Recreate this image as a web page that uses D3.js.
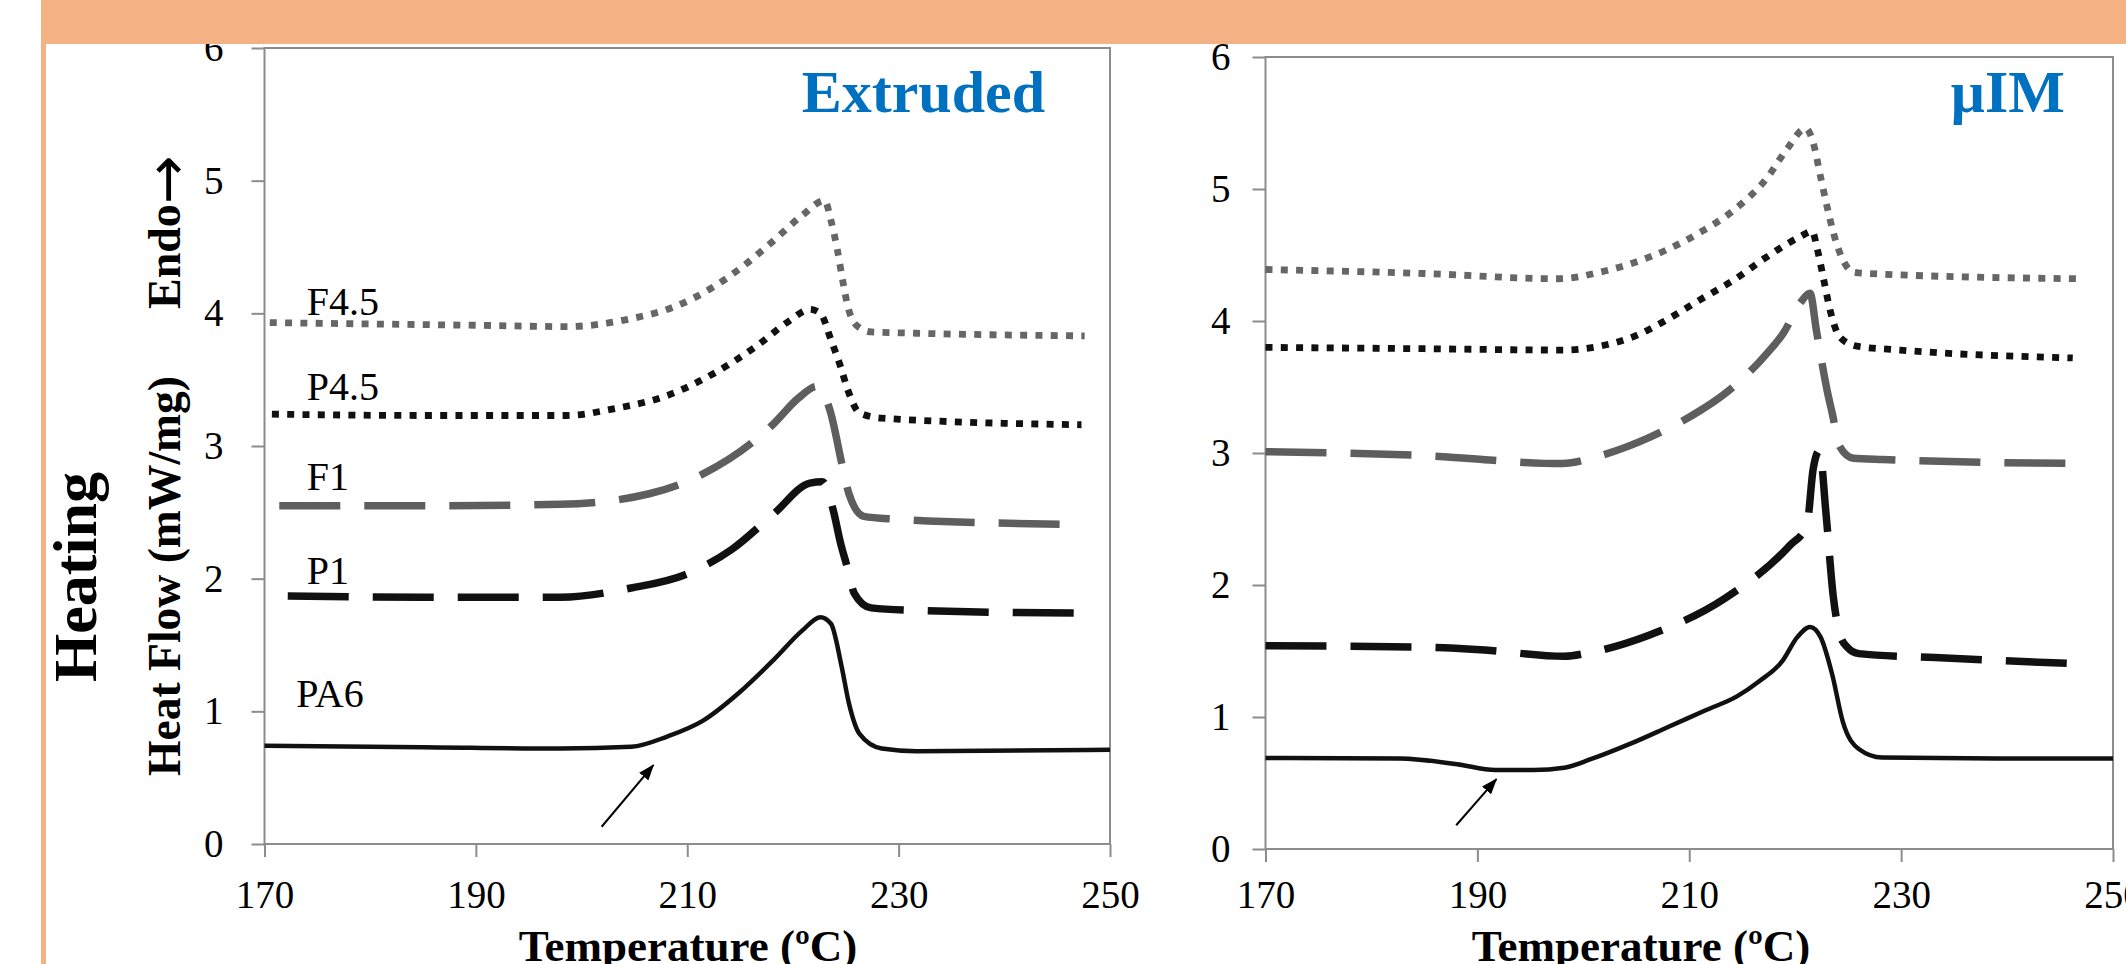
<!DOCTYPE html>
<html>
<head>
<meta charset="utf-8">
<script src="https://cdn.jsdelivr.net/npm/d3@7"></script>
<style>
    body { margin: 0; background: #fff; }
</style>
</head>
<body>
<div id="chart"></div>
<script>
(function () {
    // --- Data: DSC heating curves, [temperature (ºC), heat flow (mW/mg)] ---
    const tempTicks = [170, 190, 210, 230, 250];
    const heatTicks = [0, 1, 2, 3, 4, 5, 6];
    const seriesNames = ["F4.5", "P4.5", "F1", "P1", "PA6"];

    // Extruded samples
    const extrudedF45 = [[170.5, 3.93], [180, 3.92], [190, 3.91], [198.6, 3.90], [204.7, 3.96], [208.8, 4.05],
        [212.5, 4.20], [215.2, 4.35], [218.2, 4.55], [220.9, 4.74], [223, 4.85], [223.6, 4.70], [224.2, 4.48],
        [224.7, 4.25], [225.2, 4.05], [226, 3.91], [227.4, 3.86], [231.7, 3.85], [247.6, 3.83]];
    const extrudedP45 = [[170.7, 3.24], [185, 3.23], [198.6, 3.23], [203, 3.28], [208.1, 3.38], [212.8, 3.56],
        [216.5, 3.75], [219.6, 3.94], [221.6, 4.03], [222.6, 4.00], [223.6, 3.80], [224.5, 3.60], [225.2, 3.42],
        [226.3, 3.25], [228.4, 3.21], [247.3, 3.16]];
    const extrudedF1 = [[171.4, 2.55], [185, 2.55], [198, 2.56], [206.4, 2.64], [211.5, 2.79], [216.2, 3.03],
        [218.2, 3.17], [220.5, 3.36], [222.3, 3.45], [223.5, 3.27], [224.7, 2.84], [225.3, 2.64], [226.7, 2.47],
        [229.4, 2.45], [245.6, 2.41]];
    const extrudedP1 = [[172.2, 1.87], [185, 1.86], [198, 1.86], [204.7, 1.93], [209.8, 2.03], [214.2, 2.22],
        [218.2, 2.49], [221.6, 2.72], [222.8, 2.73], [223.8, 2.52], [224.5, 2.27], [225.2, 2.07], [225.8, 1.89],
        [227.4, 1.78], [231.7, 1.76], [247.3, 1.74]];
    const extrudedPA6 = [[170, 0.74], [185, 0.73], [198, 0.72], [204.7, 0.733], [208.1, 0.81], [211.5, 0.93],
        [214.9, 1.14], [218.2, 1.39], [220.9, 1.61], [222.6, 1.71], [223.6, 1.66], [224.6, 1.34], [225.3, 1.06],
        [226.3, 0.83], [228.4, 0.72], [231.7, 0.70], [250, 0.71]];

    // Micro injection moulded samples
    const mimF45 = [[170, 4.39], [185, 4.36], [197.7, 4.32], [201.6, 4.37], [204.7, 4.44], [207.9, 4.54],
        [211, 4.67], [214.2, 4.84], [217.4, 5.09], [219.2, 5.30], [221, 5.46], [221.7, 5.35], [222.4, 5.09],
        [223, 4.87], [223.6, 4.67], [224.2, 4.52], [225.5, 4.37], [226.8, 4.36], [246.8, 4.32]];
    const mimP45 = [[170, 3.80], [185, 3.79], [198, 3.78], [201.6, 3.81], [204.7, 3.88], [207.9, 4.01],
        [211, 4.16], [214.2, 4.31], [217.4, 4.49], [220.5, 4.64], [221.6, 4.68], [222.1, 4.54], [222.7, 4.31],
        [223.3, 4.08], [224.2, 3.88], [225.8, 3.81], [229.9, 3.78], [246.2, 3.72]];
    const mimF1 = [[170, 3.01], [185, 2.98], [198, 2.92], [201.6, 2.98], [206.3, 3.12], [211, 3.32],
        [213.2, 3.44], [217.4, 3.76], [218.9, 3.91], [220.5, 4.14], [221.4, 4.21], [222, 3.93], [223, 3.48],
        [223.5, 3.30], [224.2, 3.05], [225.5, 2.96], [228.3, 2.95], [247.3, 2.92]];
    const mimP1 = [[170, 1.54], [184.5, 1.53], [190.3, 1.51], [198.2, 1.46], [200.7, 1.49], [206.2, 1.62],
        [213.4, 1.90], [219.5, 2.30], [221.1, 2.45], [221.7, 2.88], [222.3, 3.02], [222.9, 2.55], [223.6, 1.91],
        [224.2, 1.63], [224.9, 1.53], [226, 1.48], [233.2, 1.45], [247.6, 1.40]];
    const mimPA6 = [[170, 0.69], [182.7, 0.686], [188.1, 0.642], [191.7, 0.598], [195.3, 0.598], [198.2, 0.616],
        [200.7, 0.68], [204.4, 0.796], [208, 0.924], [211.6, 1.053], [214.5, 1.156], [216.6, 1.271], [218.8, 1.425],
        [220.2, 1.605], [221.4, 1.682], [222.4, 1.605], [223.5, 1.32], [224.5, 0.963], [226, 0.758],
        [228.2, 0.693], [239.3, 0.686], [250, 0.686]];

    // Onset arrows: [tail, head]
    const extrudedArrow = [[201.9, 0.13], [206.8, 0.595]];
    const mimArrow = [[188.0, 0.18], [191.8, 0.53]];

    // --- Look ---
    const WIDTH = 2126, HEIGHT = 964;
    const FONT = '"Liberation Serif", "Times New Roman", serif';
    const ORANGE = "#F4B183";
    const AXIS_GREY = "#8c8c8c";
    const TITLE_BLUE = "#0070C0";

    const lineStyles = {
        "F4.5": { color: "#666666", width: 6.8, dash: "7,8.3" },
        "P4.5": { color: "#111111", width: 6.8, dash: "7,8.3" },
        "F1":   { color: "#5e5e5e", width: 7.5, dash: "61,24" },
        "P1":   { color: "#111111", width: 7.5, dash: "61,24" },
        "PA6":  { color: "#111111", width: 4.5, dash: null }
    };

    const panels = [
        {
            title: "Extruded", left: 264.5, right: 1110, top: 48, bottom: 844,
            yPad: 28, xPad: 23, titleX: 1045, xLabelX: 688,
            series: [extrudedF45, extrudedP45, extrudedF1, extrudedP1, extrudedPA6],
            arrow: extrudedArrow,
            // where the curve names sit, in data units
            labelAt: { "F4.5": [174.0, 3.99], "P4.5": [174.0, 3.35], "F1": [174.0, 2.67],
                       "P1": [174.0, 1.96], "PA6": [173.0, 1.03] }
        },
        {
            title: "µIM", left: 1265.5, right: 2113, top: 57, bottom: 849,
            yPad: 22, xPad: 18, titleX: 2065, xLabelX: 1641,
            series: [mimF45, mimP45, mimF1, mimP1, mimPA6],
            arrow: mimArrow,
            labelAt: null
        }
    ];

    const svg = d3.select("#chart").append("svg")
        .attr("width", WIDTH)
        .attr("height", HEIGHT)
        .style("display", "block")
        .style("font-family", FONT);

    svg.append("defs").append("marker")
        .attr("id", "arrowHead")
        .attr("markerUnits", "userSpaceOnUse")
        .attr("viewBox", "0 0 16 12")
        .attr("refX", 15).attr("refY", 6)
        .attr("markerWidth", 16).attr("markerHeight", 12)
        .attr("orient", "auto")
        .append("path")
        .attr("d", "M0,0 L16,6 L0,12 Z")
        .attr("fill", "#000");

    /**
     * Draws one DSC panel: frame, axes, curves, arrow and title.
     */
    function drawPanel(p) {
        const x = d3.scaleLinear().domain([170, 250]).range([p.left, p.right]);
        const y = d3.scaleLinear().domain([0, 6]).range([p.bottom, p.top]);
        const g = svg.append("g");

        // plot area frame
        g.append("rect")
            .attr("x", p.left).attr("y", p.top)
            .attr("width", p.right - p.left).attr("height", p.bottom - p.top)
            .attr("fill", "none")
            .attr("stroke", AXIS_GREY)
            .attr("stroke-width", 2);

        const xAxis = g.append("g")
            .attr("transform", `translate(0,${p.bottom})`)
            .call(d3.axisBottom(x).tickValues(tempTicks).tickFormat(d3.format("d"))
                .tickSize(13).tickSizeOuter(0).tickPadding(p.xPad));
        const yAxis = g.append("g")
            .attr("transform", `translate(${p.left},0)`)
            .call(d3.axisLeft(y).tickValues(heatTicks).tickFormat(d3.format("d"))
                .tickSize(13).tickSizeOuter(0).tickPadding(p.yPad));

        [xAxis, yAxis].forEach(ax => {
            ax.select(".domain").remove();
            ax.selectAll(".tick line").attr("stroke", AXIS_GREY).attr("stroke-width", 2);
            ax.selectAll(".tick text")
                .attr("fill", "#000")
                .attr("font-family", FONT)
                .attr("font-size", 39);
        });

        // curves
        const line = d3.line()
            .x(d => x(d[0]))
            .y(d => y(d[1]))
            .curve(d3.curveMonotoneX);

        g.selectAll("path.curve")
            .data(p.series)
            .join("path")
            .attr("class", "curve")
            .attr("d", line)
            .attr("fill", "none")
            .attr("stroke", (d, i) => lineStyles[seriesNames[i]].color)
            .attr("stroke-width", (d, i) => lineStyles[seriesNames[i]].width)
            .attr("stroke-dasharray", (d, i) => lineStyles[seriesNames[i]].dash)
            .attr("stroke-linejoin", "round");

        // onset arrow
        g.append("line")
            .attr("x1", x(p.arrow[0][0])).attr("y1", y(p.arrow[0][1]))
            .attr("x2", x(p.arrow[1][0])).attr("y2", y(p.arrow[1][1]))
            .attr("stroke", "#000")
            .attr("stroke-width", 2)
            .attr("marker-end", "url(#arrowHead)");

        // curve names
        if (p.labelAt) {
            g.selectAll("text.curve-name")
                .data(seriesNames)
                .join("text")
                .attr("class", "curve-name")
                .attr("x", d => x(p.labelAt[d][0]))
                .attr("y", d => y(p.labelAt[d][1]))
                .attr("font-size", 40)
                .attr("fill", "#000")
                .text(d => d);
        }

        // panel title
        g.append("text")
            .attr("x", p.titleX).attr("y", 112)
            .attr("text-anchor", "end")
            .attr("font-size", 60)
            .attr("font-weight", "bold")
            .attr("fill", TITLE_BLUE)
            .text(p.title);

        // x axis title
        g.append("text")
            .attr("x", p.xLabelX).attr("y", 961)
            .attr("text-anchor", "middle")
            .attr("font-size", 45)
            .attr("font-weight", "bold")
            .attr("fill", "#000")
            .text("Temperature (ºC)");
    }

    panels.forEach(drawPanel);

    // --- Left side titles ---
    svg.append("text")
        .attr("transform", "translate(96,577) rotate(-90)")
        .attr("text-anchor", "middle")
        .attr("font-size", 62)
        .attr("font-weight", "bold")
        .text("Heating");

    svg.append("text")
        .attr("transform", "translate(180,776) rotate(-90)")
        .attr("font-size", 46)
        .attr("font-weight", "bold")
        .attr("textLength", 400)
        .attr("lengthAdjust", "spacingAndGlyphs")
        .text("Heat Flow (mW/mg)");

    const endo = svg.append("text")
        .attr("transform", "translate(180,309) rotate(-90)")
        .attr("font-size", 46)
        .attr("font-weight", "bold");
    endo.append("tspan").text("Endo");
    // the serif arrow glyph is tiny, borrow a wider one
    endo.append("tspan")
        .attr("font-family", '"DejaVu Sans", sans-serif')
        .attr("font-weight", "normal")
        .attr("font-size", 58)
        .attr("dy", 7)
        .text("→");

    // --- Orange slide frame (drawn last, it hides the top of the left "6") ---
    svg.append("rect")
        .attr("x", 41).attr("y", 0)
        .attr("width", WIDTH - 41).attr("height", 44)
        .attr("fill", ORANGE);
    svg.append("rect")
        .attr("x", 41).attr("y", 0)
        .attr("width", 5).attr("height", HEIGHT)
        .attr("fill", ORANGE);
})();
</script>
</body>
</html>
